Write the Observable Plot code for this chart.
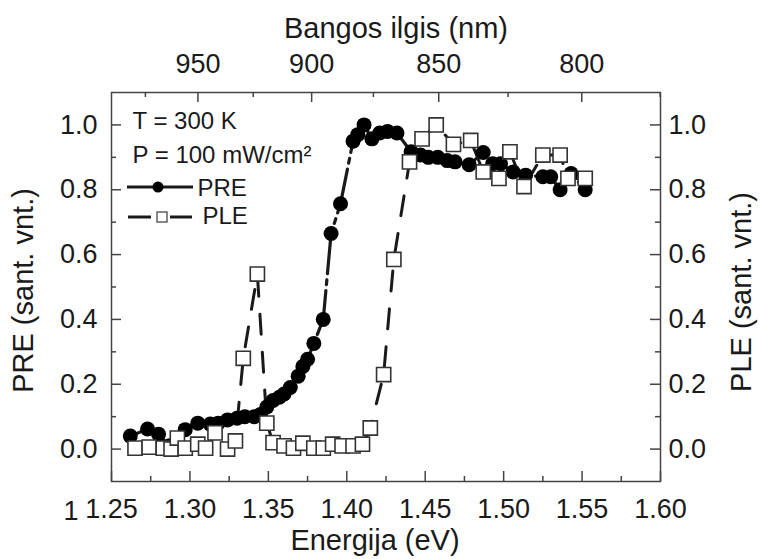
<!DOCTYPE html>
<html><head><meta charset="utf-8">
<script src="https://cdn.jsdelivr.net/npm/d3@7"></script>
<script src="https://cdn.jsdelivr.net/npm/@observablehq/plot@0.6"></script>
<style>body{margin:0;background:#fff} #chart svg{display:block}</style>
</head><body><div id="chart"></div>
<script>
// PRE (filled circles): photon energy (eV) and normalised signal
const preEnergy = [1.262,1.273,1.280,1.287,1.297,1.305,1.313,1.318,1.324,1.330,1.335,1.341,1.345,1.349,1.353,1.357,1.360,1.364,1.369,1.372,1.375,1.379,1.385,1.390,1.396,1.404,1.407,1.411,1.416,1.421,1.426,1.432,1.441,1.447,1.452,1.458,1.464,1.469,1.478,1.487,1.493,1.498,1.506,1.514,1.525,1.530,1.536,1.543,1.552];
const preValue  = [0.040,0.062,0.046,0.010,0.060,0.080,0.077,0.080,0.090,0.095,0.100,0.100,0.107,0.130,0.150,0.160,0.170,0.190,0.225,0.255,0.277,0.326,0.400,0.665,0.757,0.950,0.970,1.000,0.957,0.975,0.980,0.975,0.917,0.907,0.900,0.900,0.890,0.886,0.877,0.915,0.880,0.880,0.855,0.845,0.840,0.840,0.800,0.850,0.800];
// PLE (open squares)
const pleEnergy = [1.265,1.274,1.283,1.288,1.292,1.297,1.305,1.310,1.316,1.324,1.329,1.334,1.343,1.349,1.353,1.360,1.366,1.372,1.379,1.385,1.391,1.397,1.404,1.410,1.415,1.4235,1.430,1.440,1.448,1.457,1.468,1.479,1.487,1.497,1.504,1.513,1.525,1.536,1.541,1.552];
const pleValue  = [0.003,0.006,0.003,0.000,0.034,0.003,0.015,0.003,0.050,0.000,0.025,0.280,0.540,0.080,0.020,0.010,0.003,0.018,0.003,0.003,0.015,0.010,0.010,0.015,0.065,0.230,0.585,0.886,0.957,1.000,0.940,0.952,0.855,0.835,0.917,0.810,0.907,0.907,0.835,0.835];

const energyTicks = [1.25,1.30,1.35,1.40,1.45,1.50,1.55,1.60];
const energyMinor = [1.275,1.325,1.375,1.425,1.475,1.525,1.575];
const wavelengthTicks = [950,900,850,800];
const wavelengthMinor = [975,925,875,825,775];
const yTicks = [0,0.2,0.4,0.6,0.8,1.0];
const yMinor = [0.1,0.3,0.5,0.7,0.9];

const pre = preEnergy.map((e,i)=>({e, v: preValue[i]}));
const ple = pleEnergy.map((e,i)=>({e, v: pleValue[i]}));

const W = 760, H = 559;
const mL = 111, mR = 100, mT = 92, mB = 78;
const innerW = W - mL - mR, innerH = H - mT - mB;
const toE = nm => 1239.84 / nm;
const fam = "'Liberation Sans', Arial, sans-serif";
const ink = "#1a1a1a";
const axisInk = "#444";

const chart = Plot.plot({
  width: W, height: H,
  marginLeft: mL, marginRight: mR, marginTop: mT, marginBottom: mB,
  style: {fontFamily: fam, background: "white", color: ink, fontSize: "27px", overflow: "visible"},
  x: {domain: [1.25, 1.60]},
  y: {domain: [-0.1, 1.1]},
  marks: [
    Plot.line(pre, {x: "e", y: "v", stroke: ink, strokeWidth: 3.2, strokeDasharray: "45,6,5,6"}),
    Plot.line(ple, {x: "e", y: "v", stroke: ink, strokeWidth: 3, strokeDasharray: "20,18"}),
    Plot.dot(pre, {x: "e", y: "v", r: 7.5, fill: "black", stroke: "none"}),
    Plot.dot(ple, {x: "e", y: "v", symbol: "square", r: 8, fill: "white", stroke: "#333", strokeWidth: 1.6}),
    Plot.frame({stroke: axisInk, strokeWidth: 1.5}),
    // inward ticks
    Plot.ruleX(energyTicks, {x: d => d, insetTop: innerH - 10, stroke: axisInk, strokeWidth: 1.5}),
    Plot.ruleX(energyMinor, {x: d => d, insetTop: innerH - 5, stroke: axisInk, strokeWidth: 1.5}),
    Plot.ruleX(wavelengthTicks, {x: toE, insetBottom: innerH - 10, stroke: axisInk, strokeWidth: 1.5}),
    Plot.ruleX(wavelengthMinor, {x: toE, insetBottom: innerH - 5, stroke: axisInk, strokeWidth: 1.5}),
    Plot.ruleY(yTicks, {y: d => d, insetRight: innerW - 10, stroke: axisInk, strokeWidth: 1.5}),
    Plot.ruleY(yMinor, {y: d => d, insetRight: innerW - 5, stroke: axisInk, strokeWidth: 1.5}),
    Plot.ruleY(yTicks, {y: d => d, insetLeft: innerW - 10, stroke: axisInk, strokeWidth: 1.5}),
    Plot.ruleY(yMinor, {y: d => d, insetLeft: innerW - 5, stroke: axisInk, strokeWidth: 1.5}),
    // tick labels
    Plot.axisX({anchor: "bottom", ticks: energyTicks, tickSize: 0, tickPadding: 17, tickFormat: d => d.toFixed(2), fontSize: 27, label: null}),
    Plot.axisX({anchor: "top", ticks: wavelengthTicks.map(toE), tickSize: 0, tickPadding: 20, tickFormat: e => String(Math.round(1239.84 / e)), fontSize: 27, label: null}),
    Plot.axisY({anchor: "left", ticks: yTicks, tickSize: 0, tickPadding: 14, tickFormat: d => d.toFixed(1), fontSize: 27, label: null}),
    Plot.axisY({anchor: "right", ticks: yTicks, tickSize: 0, tickPadding: 8, tickFormat: d => d.toFixed(1), fontSize: 27, label: null}),
    Plot.text(["1"], {frameAnchor: "bottom-left", text: d => d, dx: -48, dy: 19, lineAnchor: "top", fontSize: 27}),
    // axis titles
    Plot.text(["Bangos ilgis (nm)"], {frameAnchor: "top", text: d => d, dx: 10, dy: -55, lineAnchor: "bottom", textAnchor: "middle", fontSize: 29}),
    Plot.text(["Energija (eV)"], {frameAnchor: "bottom", text: d => d, dx: -11, dy: 68, lineAnchor: "bottom", textAnchor: "middle", fontSize: 29}),
    Plot.text(["PRE (sant. vnt.)"], {frameAnchor: "left", text: d => d, rotate: -90, dx: -79, dy: 3.5, lineAnchor: "bottom", textAnchor: "middle", fontSize: 29}),
    Plot.text(["PLE (sant. vnt.)"], {frameAnchor: "right", text: d => d, rotate: -90, dx: 90, dy: 5, lineAnchor: "bottom", textAnchor: "middle", fontSize: 29}),
    // annotations / legend text
    Plot.text(["T = 300 K"], {frameAnchor: "top-left", text: d => d, dx: 21, dy: 36, lineAnchor: "bottom", textAnchor: "start", fontSize: 24}),
    Plot.text(["P = 100 mW/cm²"], {frameAnchor: "top-left", text: d => d, dx: 21, dy: 70, lineAnchor: "bottom", textAnchor: "start", fontSize: 24}),
    Plot.text(["PRE"], {frameAnchor: "top-left", text: d => d, dx: 86, dy: 103, lineAnchor: "bottom", textAnchor: "start", fontSize: 24}),
    Plot.text(["PLE"], {frameAnchor: "top-left", text: d => d, dx: 91, dy: 131, lineAnchor: "bottom", textAnchor: "start", fontSize: 24})
  ]
});
document.getElementById("chart").appendChild(chart);

// legend samples
const svg = d3.select(chart);
const lg = svg.append("g").attr("class", "legend-samples");
lg.append("line").attr("x1", 127).attr("x2", 193).attr("y1", 187).attr("y2", 187).attr("stroke", ink).attr("stroke-width", 3.2);
lg.append("circle").attr("cx", 158).attr("cy", 187).attr("r", 5.5).attr("fill", "black");
lg.append("line").attr("x1", 128).attr("x2", 151).attr("y1", 217).attr("y2", 217).attr("stroke", ink).attr("stroke-width", 3);
lg.append("line").attr("x1", 170).attr("x2", 192).attr("y1", 217).attr("y2", 217).attr("stroke", ink).attr("stroke-width", 3);
lg.append("rect").attr("x", 157).attr("y", 212).attr("width", 10).attr("height", 10).attr("fill", "white").attr("stroke", "#555").attr("stroke-width", 1.4);
</script>
</body></html>
